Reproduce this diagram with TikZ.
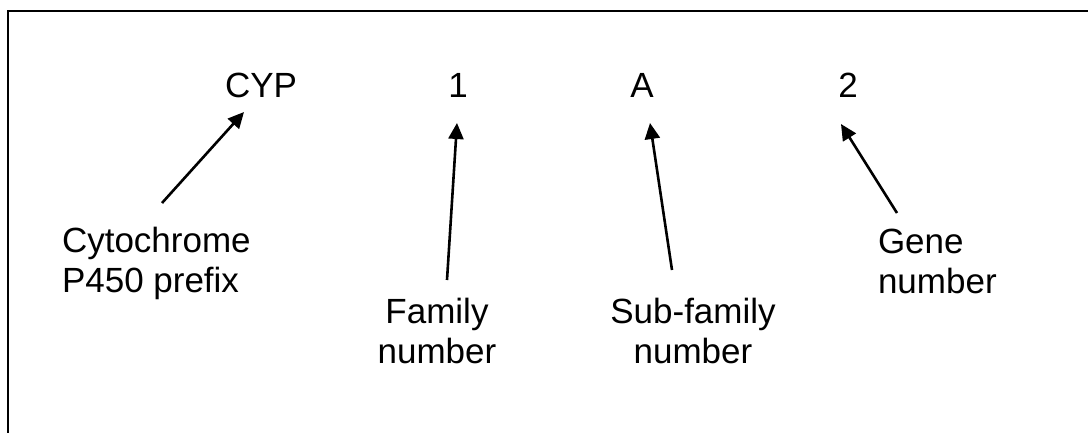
\documentclass[tikz,border=0pt]{standalone}
\usepackage{fontspec}
\setmainfont{Liberation Sans}
\usetikzlibrary{arrows.meta,calc}
\begin{document}
\begin{tikzpicture}[x=1pt,y=-1pt,
  lbl/.style={inner sep=0pt,outer sep=0pt,font=\fontsize{35}{40}\selectfont},
  arr/.style={line width=2.6pt,-{Triangle[length=16pt,width=15pt]}}]
\useasboundingbox (0,0) rectangle (1088,432);
% frame: only its top and left sides fall inside the page
\draw[line width=2.6pt] (1100,11) -- (8,11) -- (8,440);

% the name CYP1A2, split into its parts
\node[lbl,anchor=base] (cyp) at (261,97) {CYP};
\node[lbl,anchor=base] (fam) at (458,97) {1};
\node[lbl,anchor=base] (sub) at (642,97) {A};
\node[lbl,anchor=base] (gen) at (848,97) {2};

% explanations (anchored at the baseline of their last line)
\node[lbl,anchor=base west,align=left] (cytlbl) at (62,292) {Cytochrome\\P450 prefix};
\node[lbl,anchor=base,align=center] (famlbl) at (437,363) {Family\\number};
\node[lbl,anchor=base,align=center] (sublbl) at (693,363) {Sub-family\\number};
\node[lbl,anchor=base west,align=left] (genlbl) at (878,293) {Gene\\number};

% arrows from each explanation to its part
\draw[arr] ($(cytlbl.base west)+(100,-89)$) -- ($(cyp.base)+(-17,15)$);
\draw[arr] ($(famlbl.base)+(10,-83)$) -- ($(fam.base)+(-1,26)$);
\draw[arr] ($(sublbl.base)+(-21,-93)$) -- ($(sub.base)+(8,26)$);
\draw[arr] ($(genlbl.base west)+(19,-80)$) -- ($(gen.base)+(-7,27)$);
\end{tikzpicture}
\end{document}
